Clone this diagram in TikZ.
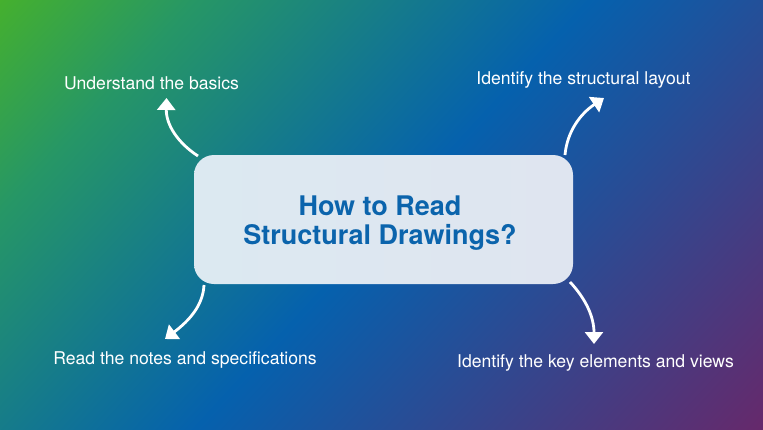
\documentclass[tikz,border=0pt]{standalone}
\usepackage{fontspec}
\setmainfont{TeX Gyre Heros}
\usetikzlibrary{arrows.meta}
\definecolor{titleblue}{HTML}{0B64AC}
\definecolor{panelL}{HTML}{DCE9F1}
\definecolor{panelR}{HTML}{DFE5F0}
\pgfdeclarefunctionalshading{bgshade}{\pgfpoint{0bp}{0bp}}{\pgfpoint{100bp}{100bp}}{}{
  75 exch sub 0.00682 mul exch 25 sub 0.01318 mul add
  dup 0.17 lt {
    0.17 div
    dup -0.12 mul 0.27 add exch
    dup -0.10 mul 0.69 add exch
    0.22 mul 0.18 add
  }{
    dup 0.51 lt {
      0.17 sub 0.34 div
      dup -0.13 mul 0.15 add exch
      dup -0.21 mul 0.59 add exch
      0.28 mul 0.40 add
    }{
      0.51 sub 0.49 div
      dup 0.38 mul 0.02 add exch
      dup -0.22 mul 0.38 add exch
      -0.26 mul 0.68 add
    } ifelse
  } ifelse
}
\tikzset{
  lab/.style={text=white,font=\fontsize{17.6bp}{20bp}\selectfont,anchor=center,inner sep=0pt},
  panel/.style={rounded corners=20bp,left color=panelL,right color=panelR,draw=none,
    minimum width=379bp,minimum height=129bp,inner sep=0pt},
  titletext/.style={align=center,text=titleblue,inner sep=0pt,
    font=\fontsize{27bp}{29.5bp}\selectfont\bfseries},
  conn/.style={white,line width=2.8bp,-{Triangle[width=18bp,length=12bp]}},
}
\begin{document}
\begin{tikzpicture}[x=1bp,y=-1bp]
\useasboundingbox (0,0) rectangle (763,429);
\shade[shading=bgshade] (0,0) rectangle (763,429);
\node[panel] (box) at (383.5,219.5) {};
\node[titletext] (title) at (380,223) {How to Read\\Structural Drawings?};
\node[lab] (basics) at (151.5,83.2) {Understand the basics};
\node[lab] (layout) at (583.5,79.5) {Identify the structural layout};
\node[lab] (notes) at (185,360) {Read the notes and specifications};
\node[lab] (views) at (595.5,363) {Identify the key elements and views};
\coordinate (a1) at (198,156); \coordinate (t1) at (166.5,98);
\coordinate (a2) at (565,155); \coordinate (t2) at (604,98);
\coordinate (a3) at (204,285); \coordinate (t3) at (165,339);
\coordinate (a4) at (570,282); \coordinate (t4) at (594,344);
\draw[conn] (a1) .. controls (178,143) and (166,125) .. (t1);
\draw[conn] (a2) .. controls (567,132) and (580,114) .. (t2);
\draw[conn] (a3) .. controls (203,305) and (190,320) .. (t3);
\draw[conn] (a4) .. controls (585,298) and (594,316) .. (t4);
\end{tikzpicture}
\end{document}
